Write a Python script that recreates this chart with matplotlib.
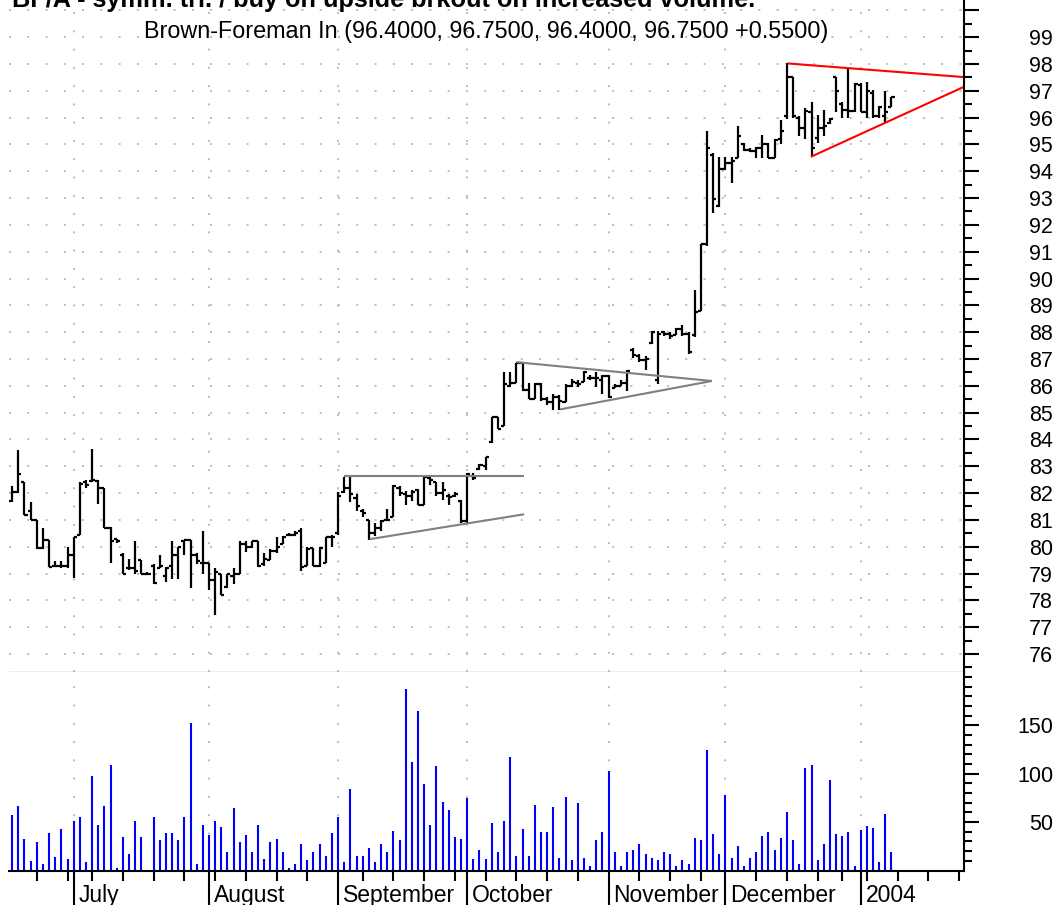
import numpy as np
import pandas as pd
import matplotlib
matplotlib.use('Agg')
import matplotlib.pyplot as plt
from matplotlib.transforms import blended_transform_factory

plt.rcParams['font.family'] = ['Liberation Sans', 'DejaVu Sans']

# daily bars, 17 Jun 2003 .. 9 Jan 2004 (one entry per trading day)
opens = [81.7, 82.05, 82.4, 81.35, 81.0, 79.95, 80.25, 79.3, 79.3, 79.3,
         79.7, 80.45, 82.4, 82.45, 82.45, 82.2, 80.7, 80.3, 79.7, 79.2,
         79.2, 79.5, 79.0, 79.3, 79.2, 78.9, 79.3, 79.7, 80.2, 80.25,
         79.7, 79.4, 79.4, 78.75, 79.0, 78.5, 78.9, 79.0, 80.1, 80.0,
         80.2, 79.35, 79.5, 79.85, 80.1, 80.45, 80.45, 80.6, 79.3, 79.95,
         79.3, 79.4, 80.35, 80.5, 82.05, 82.2, 81.8, 81.35, 81.0, 80.5,
         80.7, 81.0, 81.1, 82.2, 81.95, 81.9, 82.1, 81.55, 82.55, 82.4,
         82.0, 81.9, 81.9, 81.7, 80.95, 82.65, 82.9, 83.0, 83.9, 84.85,
         84.5, 86.0, 86.1, 86.86, 85.85, 85.5, 86.05, 85.5, 85.4, 85.6,
         85.4, 86.0, 86.1, 86.15, 86.3, 86.3, 86.2, 86.35, 85.9, 86.0,
         86.1, 87.35, 87.1, 86.95, 87.6, 86.2, 88.0, 87.95, 87.9, 88.1,
         87.95, 87.9, 88.8, 91.3, 94.6, 92.7, 94.1, 94.3, 94.5, 95.0,
         94.8, 94.75, 94.85, 95.0, 94.5, 95.2, 96.05, 97.5, 96.0, 95.6,
         96.2, 95.25, 95.6, 95.8, 97.5, 96.5, 96.3, 96.25, 97.2, 96.2,
         96.9, 96.05, 96.05, 96.4]
highs = [82.25, 83.6, 82.4, 81.65, 81.0, 80.7, 80.25, 79.45, 79.45, 80.0,
         80.35, 82.4, 82.5, 83.65, 82.5, 82.2, 80.75, 80.3, 79.75, 79.55,
         80.2, 79.5, 79.05, 79.35, 79.7, 79.25, 80.2, 80.0, 80.25, 80.25,
         79.75, 80.6, 79.4, 79.2, 79.0, 79.0, 79.2, 80.2, 80.2, 80.2,
         80.2, 79.75, 79.9, 80.35, 80.4, 80.5, 80.6, 80.7, 80.0, 79.95,
         80.0, 80.35, 80.45, 82.05, 82.6, 82.6, 81.98, 81.4, 81.0, 80.9,
         81.0, 81.4, 82.3, 82.25, 82.08, 82.1, 82.15, 82.65, 82.65, 82.4,
         82.4, 81.95, 82.05, 81.75, 82.75, 82.75, 83.1, 83.35, 84.85, 84.85,
         86.5, 86.5, 86.86, 86.86, 86.1, 86.1, 86.1, 85.6, 85.7, 85.65,
         86.05, 86.25, 86.2, 86.55, 86.4, 86.5, 86.4, 86.4, 86.05, 86.2,
         86.6, 87.4, 87.2, 87.1, 88.05, 88.05, 88.05, 88.0, 88.15, 88.25,
         88.0, 89.57, 91.3, 95.5, 94.67, 94.54, 94.54, 94.54, 95.67, 95.05,
         94.85, 94.92, 95.35, 95.05, 95.2, 95.9, 98.02, 97.53, 96.05, 96.35,
         96.6, 96.1, 96.3, 96.0, 97.53, 96.6, 97.84, 97.28, 97.28, 97.34,
         97.03, 96.45, 97.0, 96.75]
lows = [81.65, 82.0, 81.2, 81.0, 79.9, 79.9, 79.25, 79.25, 79.2, 79.2,
        78.85, 80.45, 82.2, 82.4, 81.6, 80.7, 79.4, 80.15, 79.0, 79.15,
        79.0, 79.0, 78.95, 78.6, 79.2, 78.7, 78.8, 78.8, 79.7, 78.45,
        79.35, 79.0, 78.4, 77.45, 78.2, 78.45, 78.6, 79.0, 79.8, 79.95,
        79.25, 79.3, 79.5, 79.75, 80.1, 80.4, 80.4, 79.1, 79.3, 79.3,
        79.25, 79.4, 80.0, 80.45, 82.0, 81.65, 81.35, 81.1, 80.25, 80.4,
        80.6, 81.0, 81.1, 81.9, 81.55, 81.7, 81.55, 81.55, 82.3, 81.9,
        81.75, 81.55, 81.85, 80.9, 80.9, 82.5, 82.85, 82.85, 83.85, 84.4,
        84.5, 85.95, 86.1, 85.8, 85.5, 85.5, 85.45, 85.3, 85.1, 85.1,
        85.4, 85.95, 85.95, 86.15, 86.2, 85.95, 85.7, 85.55, 85.9, 86.0,
        85.8, 87.05, 86.9, 86.6, 87.55, 86.05, 87.85, 87.75, 87.9, 87.85,
        87.2, 87.83, 88.8, 91.2, 92.43, 92.68, 94.05, 93.55, 94.5, 94.75,
        94.7, 94.5, 94.5, 94.5, 94.5, 95.0, 95.95, 96.0, 95.3, 95.2,
        94.54, 95.05, 95.3, 95.75, 96.2, 95.97, 95.97, 96.2, 96.2, 95.97,
        95.97, 95.97, 95.85, 96.4]
closes = [82.05, 82.7, 81.2, 81.0, 79.95, 80.25, 79.25, 79.3, 79.3, 79.7,
          80.35, 82.35, 82.3, 82.5, 82.2, 80.7, 80.2, 80.2, 79.0, 79.2,
          79.1, 79.0, 79.0, 78.65, 79.3, 79.2, 79.7, 80.0, 80.25, 79.7,
          79.45, 79.4, 78.75, 79.05, 78.2, 79.0, 79.0, 80.1, 80.0, 80.2,
          79.3, 79.55, 79.85, 80.0, 80.35, 80.45, 80.5, 79.25, 79.9, 79.3,
          79.95, 80.35, 80.35, 81.9, 82.2, 81.95, 81.5, 81.25, 80.5, 80.7,
          80.95, 81.0, 82.25, 82.0, 81.9, 82.05, 81.55, 82.6, 82.5, 82.0,
          82.1, 81.85, 81.95, 80.95, 82.7, 82.55, 83.05, 83.35, 84.85, 84.4,
          86.05, 86.1, 86.86, 85.85, 85.5, 86.05, 85.5, 85.4, 85.6, 85.45,
          86.0, 86.15, 86.05, 86.5, 86.3, 86.3, 86.35, 85.6, 86.0, 86.1,
          86.55, 87.15, 86.95, 87.0, 88.0, 87.95, 87.95, 87.85, 88.1, 87.95,
          87.25, 88.75, 91.3, 94.85, 92.95, 94.1, 94.3, 94.4, 95.3, 94.8,
          94.75, 94.85, 95.0, 94.5, 95.15, 95.5, 97.5, 96.05, 95.6, 96.25,
          94.85, 95.6, 95.7, 95.95, 97.0, 96.3, 96.25, 97.25, 96.22, 97.0,
          96.05, 96.4, 96.2, 96.75]
volume = [57, 67, 33, 10, 29, 7, 39, 14, 43, 12,
          51, 55, 9, 98, 47, 67, 109, 3, 35, 17,
          51, 35, 1, 55, 31, 39, 39, 31, 55, 152,
          7, 47, 37, 51, 45, 19, 65, 29, 37, 19,
          47, 12, 29, 33, 19, 3, 7, 27, 11, 19,
          27, 15, 39, 55, 9, 84, 15, 15, 23, 9,
          27, 19, 41, 31, 188, 112, 165, 89, 47, 108,
          71, 63, 35, 33, 75, 12, 21, 12, 49, 19,
          51, 117, 15, 43, 15, 68, 40, 40, 66, 13,
          76, 11, 70, 13, 5, 31, 40, 103, 19, 5,
          19, 21, 27, 17, 13, 11, 19, 17, 5, 11,
          7, 34, 31, 125, 38, 17, 78, 13, 25, 5,
          13, 19, 36, 40, 21, 34, 60, 31, 7, 106,
          109, 11, 27, 94, 38, 36, 40, 5, 42, 46,
          44, 9, 58, 19]

holidays = ['2003-07-04', '2003-09-01', '2003-11-27', '2003-12-25', '2004-01-01']
price_ticks = list(range(76, 101))
price_labels = [str(p) for p in range(76, 100)] + ['']
vol_ticks = [50, 100, 150]

# trend lines drawn on the chart: ((day, price), (day, price))
gray_lines = [((53.9, 82.65), (83.25, 82.65)),
              ((58.1, 80.28), (83.25, 81.21)),
              ((82.06, 86.88), (113.8, 86.18)),
              ((89.1, 85.12), (113.8, 86.18))]
red_lines = [((126.1, 98.02), (154.8, 97.51)),
             ((129.9, 94.54), (154.8, 97.15))]

days = pd.bdate_range('2003-06-17', '2004-01-30')
days = days[~days.isin(pd.to_datetime(holidays))]
n = len(closes)
x = np.arange(n)

month_idx, month_lab, week_idx = [], [], []
for i in range(1, len(days)):
    if days[i].month != days[i - 1].month:
        month_idx.append(i)
        month_lab.append('2004' if days[i].month == 1 else days[i].strftime('%B'))
    elif days[i].weekday() < days[i - 1].weekday():
        week_idx.append(i)

W, H = 1063, 905
fig = plt.figure(figsize=(W / 100, H / 100), dpi=100)
left, right = 9 / W, 964 / W
sep, base = 671.6, 870.5
ax = fig.add_axes([left, 1 - sep / H, right - left, sep / H])
axv = fig.add_axes([left, 1 - base / H, right - left, (base - sep) / H], sharex=ax)

xlim = (-0.52, 154.8)
grid_kw = dict(color='#bcbcbc', linewidth=1.4, linestyle=(0, (1, 8.4)))

# price panel
ax.vlines(x, lows, highs, color='black', lw=1.6)
ax.hlines(opens, x - 0.5, x, color='black', lw=1.6)
ax.hlines(closes, x, x + 0.5, color='black', lw=1.6)
for (x0, y0), (x1, y1) in gray_lines:
    ax.plot([x0, x1], [y0, y1], color='#808080', lw=1.5, solid_capstyle='butt')
for (x0, y0), (x1, y1) in red_lines:
    ax.plot([x0, x1], [y0, y1], color='red', lw=1.5, solid_capstyle='butt')

ax.set_xlim(*xlim)
ax.set_ylim(75.344, 100.385)
ax.set_yticks(price_ticks)
ax.set_yticklabels(price_labels)
ax.set_yticks(np.arange(75.5, 100.5, 1.0), minor=True)
ax.yaxis.tick_right()
ax.tick_params(axis='y', which='major', direction='out', length=10.8, width=1.5,
               pad=53.3, labelsize=15.5)
ax.tick_params(axis='y', which='minor', direction='out', length=5.6, width=1.5)
plt.setp(ax.get_yticklabels(), ha='right')
ax.set_xticks(month_idx)
ax.tick_params(axis='x', length=0, labelbottom=False)
ax.grid(axis='both', which='major', **grid_kw)
for s in ['top', 'left']:
    ax.spines[s].set_visible(False)
ax.spines['bottom'].set_color('#a0a0a0')
ax.spines['bottom'].set_linewidth(1.0)
ax.spines['right'].set_linewidth(1.5)

o, h, l, c = opens[-1], highs[-1], lows[-1], closes[-1]
sub = f'Brown-Foreman In ({o:.4f}, {h:.4f}, {l:.4f}, {c:.4f} +{c - closes[-2]:.4f})'
ax.text(0.5, 1 - 38 / sep, sub, transform=ax.transAxes, ha='center', va='baseline',
        fontsize=16.8)
fig.text(12 / W, 1 - 7 / H, 'BF/A - symm. tri. / buy on upside brkout on increased volume.',
         ha='left', va='baseline', fontsize=18.2, fontweight='bold')

# volume panel
axv.vlines(x, 0, volume, color='#0000ff', lw=1.5)
axv.set_ylim(0, 205.5)
axv.set_yticks(vol_ticks)
axv.set_yticks(np.arange(10, 210, 10), minor=True)
axv.yaxis.tick_right()
axv.tick_params(axis='y', which='major', direction='out', length=10.8, width=1.5,
                pad=53.3, labelsize=15.5)
axv.tick_params(axis='y', which='minor', direction='out', length=5.6, width=1.5)
plt.setp(axv.get_yticklabels(), ha='right')
axv.set_xticks(month_idx)
axv.set_xticks(week_idx, minor=True)
axv.tick_params(axis='x', which='major', direction='out', length=25, width=1.5, labelbottom=False)
axv.tick_params(axis='x', which='minor', direction='out', length=7, width=1.5)
axv.grid(axis='x', which='major', **grid_kw)
axv.set_xlim(*xlim)
for s in ['top', 'left']:
    axv.spines[s].set_visible(False)
axv.spines['bottom'].set_linewidth(1.5)
axv.spines['right'].set_linewidth(1.5)

tr = blended_transform_factory(axv.transData, axv.transAxes)
for i, lab in zip(month_idx, month_lab):
    axv.text(i + 0.8, -(902 - base) / (base - sep), lab, transform=tr,
             ha='left', va='baseline', fontsize=16.5, clip_on=False)

fig.savefig('out.png', dpi=100)
